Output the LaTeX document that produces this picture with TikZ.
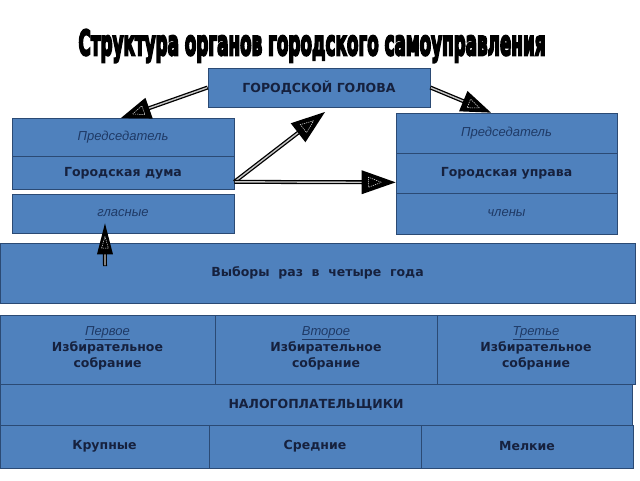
\documentclass[tikz,border=0pt]{standalone}
\usepackage{fontspec}
\setmainfont{DejaVu Sans}
\newfontfamily\itfont{Liberation Sans}
\newfontfamily\titlefont[FakeBold=7]{DejaVu Sans}
\usetikzlibrary{calc}
\definecolor{boxblue}{HTML}{4F81BD}
\definecolor{boxedge}{HTML}{2B4A74}
\definecolor{txtdark}{HTML}{16213E}
\definecolor{ittxt}{HTML}{1F3A66}
\newcommand{\itl}[1]{\textnormal{\itfont\itshape\fontsize{13}{15}\selectfont\color{ittxt}#1}}
\tikzset{
  blk/.style={draw=boxedge, fill=boxblue, line width=0.7pt, inner sep=0pt, text=txtdark,
    font=\bfseries\fontsize{12.5}{16.5}\selectfont, align=center},
}
% #1 start, #2 tip, #3 head length, #4 head half-width
\newcommand{\fatarrow}[4]{%
  \coordinate (fa-m) at ($(#2)!#3!(#1)$);
  \coordinate (fa-i) at ($(#2)!0.8*#3!(#1)$);
  \coordinate (fa-s) at ($(#2)!0.9*#3!(#1)$);
  \draw[black, line width=4pt] (#1) -- (fa-s);
  \draw[gray!45, line width=1.4pt, shorten <=0.6pt] (#1) -- (fa-s);
  \fill[black] (#2) -- ($(fa-m)!#4!90:(#2)$) -- ($(fa-m)!#4!-90:(#2)$) -- cycle;
  \draw[white!80!gray, line width=0.5pt, dash pattern=on 1.3pt off 0.9pt]
    ($(#2)!0.42*#3!(#1)$) -- ($(fa-i)!0.42*#4!90:(#2)$) -- ($(fa-i)!0.42*#4!-90:(#2)$) -- cycle;
}
\begin{document}
\begin{tikzpicture}[x=1pt,y=-1pt]
\useasboundingbox[fill=white] (0,0) rectangle (640,480);
% title
\node[inner sep=0] (title) at (312,46)
  {\resizebox*{467pt}{33pt}{\titlefont\bfseries Структура органов городского самоуправления}};
% head
\node[blk, minimum width=222pt, minimum height=39pt] (head) at (319,87.5)
  {ГОРОДСКОЙ ГОЛОВА};
% left stack
\node[blk, minimum width=222pt, minimum height=38pt] (lp) at (123,137.5) {\itl{Председатель}};
\node[blk, minimum width=222pt, minimum height=33pt] (ld) at (123,173) {Городская дума};
\node[blk, minimum width=222pt, minimum height=39pt] (lg) at (123,213.5) {\itl{гласные}};
% right stack
\node[blk, minimum width=221pt, minimum height=40pt] (rp) at (506.5,133) {\itl{Председатель}};
\node[blk, minimum width=221pt, minimum height=40pt] (ru) at (506.5,173) {Городская управа};
\node[blk, minimum width=221pt, minimum height=41pt] (rc) at (506.5,213.5) {\itl{члены}};
% elections
\node[blk, minimum width=635pt, minimum height=60pt] (vy) at (317.5,273) {Выборы\ \ раз\ \ в\ \ четыре\ \ года};
% assemblies
\node[blk, minimum width=215pt, minimum height=69pt] (a1) at (107.5,349.5)
  {\raisebox{-2pt}{\itl{\underline{Первое}}}\\Избирательное\\собрание\rule[-5pt]{0pt}{1pt}};
\node[blk, minimum width=222pt, minimum height=69pt] (a2) at (326,349.5)
  {\raisebox{-2pt}{\itl{\underline{Второе}}}\\Избирательное\\собрание\rule[-5pt]{0pt}{1pt}};
\node[blk, minimum width=198pt, minimum height=69pt] (a3) at (536,349.5)
  {\raisebox{-2pt}{\itl{\underline{Третье}}}\\Избирательное\\собрание\rule[-5pt]{0pt}{1pt}};
% taxpayers
\node[blk, minimum width=632pt, minimum height=41pt] (tax) at (316,404.5) {НАЛОГОПЛАТЕЛЬЩИКИ};
\node[blk, minimum width=209pt, minimum height=43pt] (k1) at (104.5,446.5) {Крупные};
\node[blk, minimum width=212pt, minimum height=43pt] (k2) at (315,446.5) {Средние};
\node[blk, minimum width=212pt, minimum height=43pt] (k3) at (527,446.5) {Мелкие};
% arrow points
\coordinate (tl) at ($(lp.north west)!0.49!(lp.north east)$);
\coordinate (tr) at ($(rp.north west)!0.43!(rp.north east)$);
\coordinate (o) at ($(ld.south east)+(0,-8)$);
\coordinate (t1) at (325,112);
\coordinate (th) at ($(ru.south west)+(0,-11)$);
\coordinate (v0) at (105,266);
\coordinate (vt) at ($(lg.south west)!0.419!(lg.south east)+(0,-10)$);
\fatarrow{head.west}{tl}{30pt}{11pt}
\fatarrow{head.east}{tr}{30pt}{11pt}
\fatarrow{o}{t1}{34pt}{12pt}
\fatarrow{o}{th}{34pt}{12pt}
\fatarrow{v0}{vt}{31pt}{8pt}
\end{tikzpicture}
\end{document}
